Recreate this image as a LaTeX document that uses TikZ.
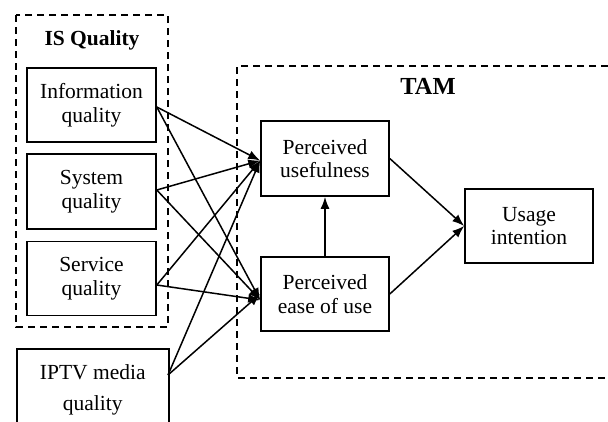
\documentclass[tikz,border=0pt]{standalone}
\usepackage{fontspec}
\setmainfont{Liberation Serif}
\usetikzlibrary{arrows.meta}
\begin{document}
\begin{tikzpicture}[x=1pt,y=-1pt,
  box/.style={draw,line width=1.6pt,minimum width=128pt,minimum height=74pt,align=center,inner sep=0pt,
    font=\fontsize{21.5}{23.5}\selectfont},
  grp/.style={draw,line width=1.5pt,dash pattern=on 7pt off 5pt},
  ttl/.style={font=\fontsize{21.5}{24}\selectfont\bfseries},
  arr/.style={line width=1.5pt,-{Latex[length=12pt,width=9pt]}}]
\useasboundingbox (0,0) rectangle (608,421);
\draw[grp] (16,15) rectangle (168,327);
\draw[grp] (620,66) -- (237,66) -- (237,378) -- (620,378);
\node[ttl] (istitle) at (92,40) {IS Quality};
\node[ttl,font=\fontsize{24.5}{26}\selectfont\bfseries] (tamtitle) at (428,86) {TAM};
\node[box,minimum width=129pt] (info) at (91.5,105) {Information\\quality};
\node[box,minimum width=129pt,minimum height=75pt] (sys) at (91.5,191.5) {System\\quality};
\node[box,minimum width=129pt] (svc) at (91.5,278.5) {Service\\quality};
\node[box,minimum width=152pt,minimum height=110pt,anchor=north west] (iptv) at (16,348) {};
\node[font=\fontsize{21.5}{31}\selectfont,align=center,anchor=north] (iptvtext) at ([yshift=-13pt]iptv.north) {IPTV media\\quality};
\coordinate (iptvout) at (168,375);
\node[box,minimum height=75pt] (pu) at (325,158.5) {Perceived\\usefulness};
\node[box] (peou) at (325,294) {Perceived\\ease of use};
\node[box] (ui) at (529,226) {Usage\\intention};
\foreach \s/\d in {info/-2,sys/1.5,svc/-6.5}{
  \draw[arr] ([yshift=\d pt]\s.east) -- ([yshift=-2pt]pu.west);
  \draw[arr] ([yshift=\d pt]\s.east) -- ([yshift=-6pt]peou.west);
}
\draw[arr] (iptvout) -- ([yshift=-2pt]pu.west);
\draw[arr] (iptvout) -- ([yshift=0pt]peou.west);
\draw[arr] (peou.north) -- (pu.south);
\draw[arr] (pu.east) -- (ui.west);
\draw[arr] (peou.east) -- (ui.west);
\end{tikzpicture}
\end{document}
